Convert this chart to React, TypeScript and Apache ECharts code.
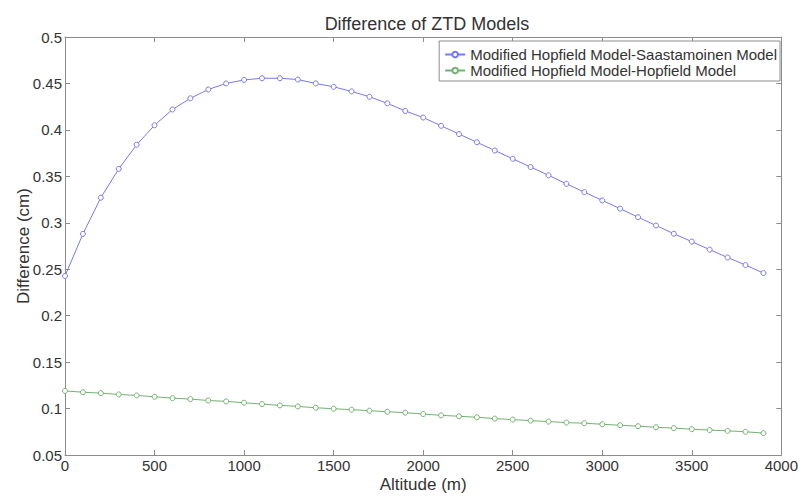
import React, { useEffect, useRef } from "react";
import * as echarts from "echarts";

// Altitude in metres, sampled every 100 m
const altitudes: number[] = [
  0, 100, 200, 300, 400, 500, 600, 700, 800, 900,
  1000, 1100, 1200, 1300, 1400, 1500, 1600, 1700, 1800, 1900,
  2000, 2100, 2200, 2300, 2400, 2500, 2600, 2700, 2800, 2900,
  3000, 3100, 3200, 3300, 3400, 3500, 3600, 3700, 3800, 3900,
];

// Modified Hopfield minus Saastamoinen (cm)
const diffSaastamoinen: number[] = [
  0.2427, 0.288, 0.327, 0.358, 0.384, 0.405, 0.422, 0.434, 0.4435, 0.450,
  0.4538, 0.4556, 0.4556, 0.4542, 0.450, 0.4464, 0.4414, 0.4357, 0.4286, 0.4204,
  0.4133, 0.4044, 0.3955, 0.3867, 0.3778, 0.3689, 0.360, 0.3511, 0.3419, 0.333,
  0.3241, 0.3152, 0.306, 0.2971, 0.2882, 0.2797, 0.2711, 0.2626, 0.2545, 0.2459,
];

// Modified Hopfield minus Hopfield (cm)
const diffHopfield: number[] = [
  0.119, 0.1176, 0.1166, 0.1152, 0.1141, 0.1127, 0.1112, 0.1102, 0.1087, 0.1077,
  0.1063, 0.1048, 0.1034, 0.1023, 0.1009, 0.0998, 0.0988, 0.0977, 0.0966, 0.0956,
  0.0941, 0.0927, 0.0917, 0.0906, 0.0892, 0.0881, 0.087, 0.086, 0.0849, 0.0842,
  0.0831, 0.082, 0.081, 0.0799, 0.0789, 0.0778, 0.0768, 0.076, 0.075, 0.0736,
];

const seriesNames: string[] = [
  "Modified Hopfield Model-Saastamoinen Model",
  "Modified Hopfield Model-Hopfield Model",
];

const FONT = "'Liberation Sans', Arial, sans-serif";
const TEXT = "#333333";
const AXIS = "#8c8c8c";
const BLUE = "#7878ee";
const GREEN = "#72b272";

export default function App() {
  const ref = useRef<HTMLDivElement>(null);

  useEffect(() => {
    if (!ref.current) return;
    const chart = echarts.init(ref.current, undefined, { renderer: "svg" });

    const fmt = (v: number) => String(Number(v.toFixed(2)));
    const tick = { show: true, inside: true, length: 5, lineStyle: { color: AXIS } };
    const line = { show: true, onZero: false, lineStyle: { color: AXIS, width: 1 } };

    chart.setOption({
      animation: false,
      backgroundColor: "#ffffff",
      textStyle: { fontFamily: FONT },
      title: {
        text: "Difference of ZTD Models",
        left: 422,
        top: 10,
        textAlign: "center",
        textStyle: { fontFamily: FONT, fontSize: 18, fontWeight: "normal", color: TEXT },
      },
      grid: { left: 65, right: 18, top: 37, bottom: 39, containLabel: false },
      legend: {
        data: seriesNames,
        orient: "vertical",
        right: 21,
        top: 41,
        padding: [6, 3, 3, 5],
        itemWidth: 20,
        itemHeight: 7,
        itemGap: 1,
        backgroundColor: "#ffffff",
        borderColor: AXIS,
        borderWidth: 1,
        borderRadius: 0,
        textStyle: { fontFamily: FONT, fontSize: 15, color: TEXT },
      },
      xAxis: [
        {
          type: "value",
          min: 0,
          max: 4000,
          interval: 500,
          position: "bottom",
          name: "Altitude (m)",
          nameLocation: "middle",
          nameGap: 21,
          nameMoveOverlap: false,
          nameTextStyle: { fontFamily: FONT, fontSize: 17, color: TEXT },
          axisLine: line,
          axisTick: tick,
          axisLabel: { fontFamily: FONT, fontSize: 15, color: TEXT, margin: 3, formatter: fmt },
          splitLine: { show: false },
        },
        {
          type: "value",
          min: 0,
          max: 4000,
          interval: 500,
          position: "top",
          axisLine: line,
          axisTick: tick,
          axisLabel: { show: false },
          splitLine: { show: false },
        },
      ],
      yAxis: [
        {
          type: "value",
          min: 0.05,
          max: 0.5,
          interval: 0.05,
          position: "left",
          name: "Difference (cm)",
          nameLocation: "middle",
          nameGap: 33,
          nameMoveOverlap: false,
          nameTextStyle: { fontFamily: FONT, fontSize: 17, color: TEXT },
          axisLine: line,
          axisTick: tick,
          axisLabel: { fontFamily: FONT, fontSize: 15, color: TEXT, margin: 3, formatter: fmt },
          splitLine: { show: false },
        },
        {
          type: "value",
          min: 0.05,
          max: 0.5,
          interval: 0.05,
          position: "right",
          axisLine: line,
          axisTick: tick,
          axisLabel: { show: false },
          splitLine: { show: false },
        },
      ],
      series: [
        {
          name: seriesNames[0],
          type: "line",
          data: altitudes.map((a, i) => [a, diffSaastamoinen[i]]),
          color: BLUE,
          symbol: "circle",
          symbolSize: 5,
          showAllSymbol: true,
          lineStyle: { width: 1, color: BLUE },
          itemStyle: { color: "#ffffff", borderColor: BLUE, borderWidth: 1 },
        },
        {
          name: seriesNames[1],
          type: "line",
          data: altitudes.map((a, i) => [a, diffHopfield[i]]),
          color: GREEN,
          symbol: "circle",
          symbolSize: 5,
          showAllSymbol: true,
          lineStyle: { width: 1, color: GREEN },
          itemStyle: { color: "#ffffff", borderColor: GREEN, borderWidth: 1 },
        },
      ],
    });

    return () => chart.dispose();
  }, []);

  return (
    <div
      ref={ref}
      style={{ position: "fixed", left: 0, top: 0, width: 801, height: 498, background: "#fff" }}
    />
  );
}
